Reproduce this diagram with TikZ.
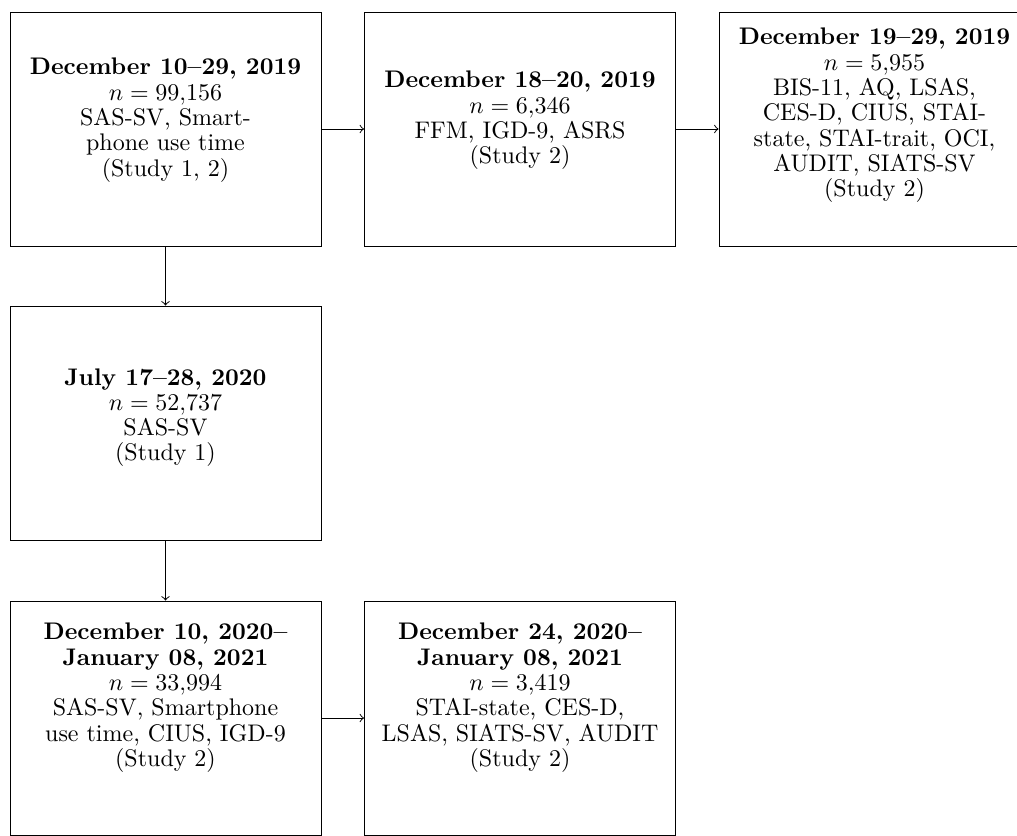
\documentclass[tikz,border=0pt]{standalone}
\begin{document}
\begin{tikzpicture}[x=0.41667pt,y=-0.41667pt,
  box/.style={draw, line width=0.4pt, text width=122.5pt, align=flush center,
    font=\fontsize{10}{10.55}\selectfont,
    minimum width=129.6pt, minimum height=97.5pt, inner sep=3.333pt},
  conn/.style={->, line width=0.4pt}]
\useasboundingbox (0,0) rectangle (1017,835);
\clip (0,0) rectangle (1017,835);
\node[box, text depth=51.95pt] (a) at (165.5,129) {\textbf{December 10--29, 2019}\\ $n=99{,}156$\\ SAS-SV, Smart-\\phone use time\\ (Study 1, 2)};
\node[box, text depth=41.11pt] (b) at (520,129) {\textbf{December 18--20, 2019}\\ $n=6{,}346$\\ FFM, IGD-9, ASRS\\ (Study 2)};
\node[box, text depth=77pt] (c) at (874.5,129) {\textbf{December 19--29, 2019}\\ $n=5{,}955$\\ BIS-11, AQ, LSAS,\\ CES-D, CIUS, STAI-\\state, STAI-trait, OCI,\\ AUDIT, SIATS-SV\\ (Study 2)};
\node[box, text depth=38.61pt] (d) at (165.5,423) {\textbf{July 17--28, 2020}\\ $n=52{,}737$\\ SAS-SV\\ (Study 1)};
\node[box, text depth=71.95pt] (e) at (165.5,718) {\textbf{December 10, 2020--}\\ \textbf{January 08, 2021}\\ $n=33{,}994$\\ SAS-SV, Smartphone\\ use time, CIUS, IGD-9\\ (Study 2)};
\node[box, text depth=71.95pt] (f) at (520,718) {\textbf{December 24, 2020--}\\ \textbf{January 08, 2021}\\ $n=3{,}419$\\ STAI-state, CES-D,\\ LSAS, SIATS-SV, AUDIT\\ (Study 2)};
\draw[conn] (a) -- (b);
\draw[conn] (b) -- (c);
\draw[conn] (a) -- (d);
\draw[conn] (d) -- (e);
\draw[conn] (e) -- (f);
\end{tikzpicture}
\end{document}
